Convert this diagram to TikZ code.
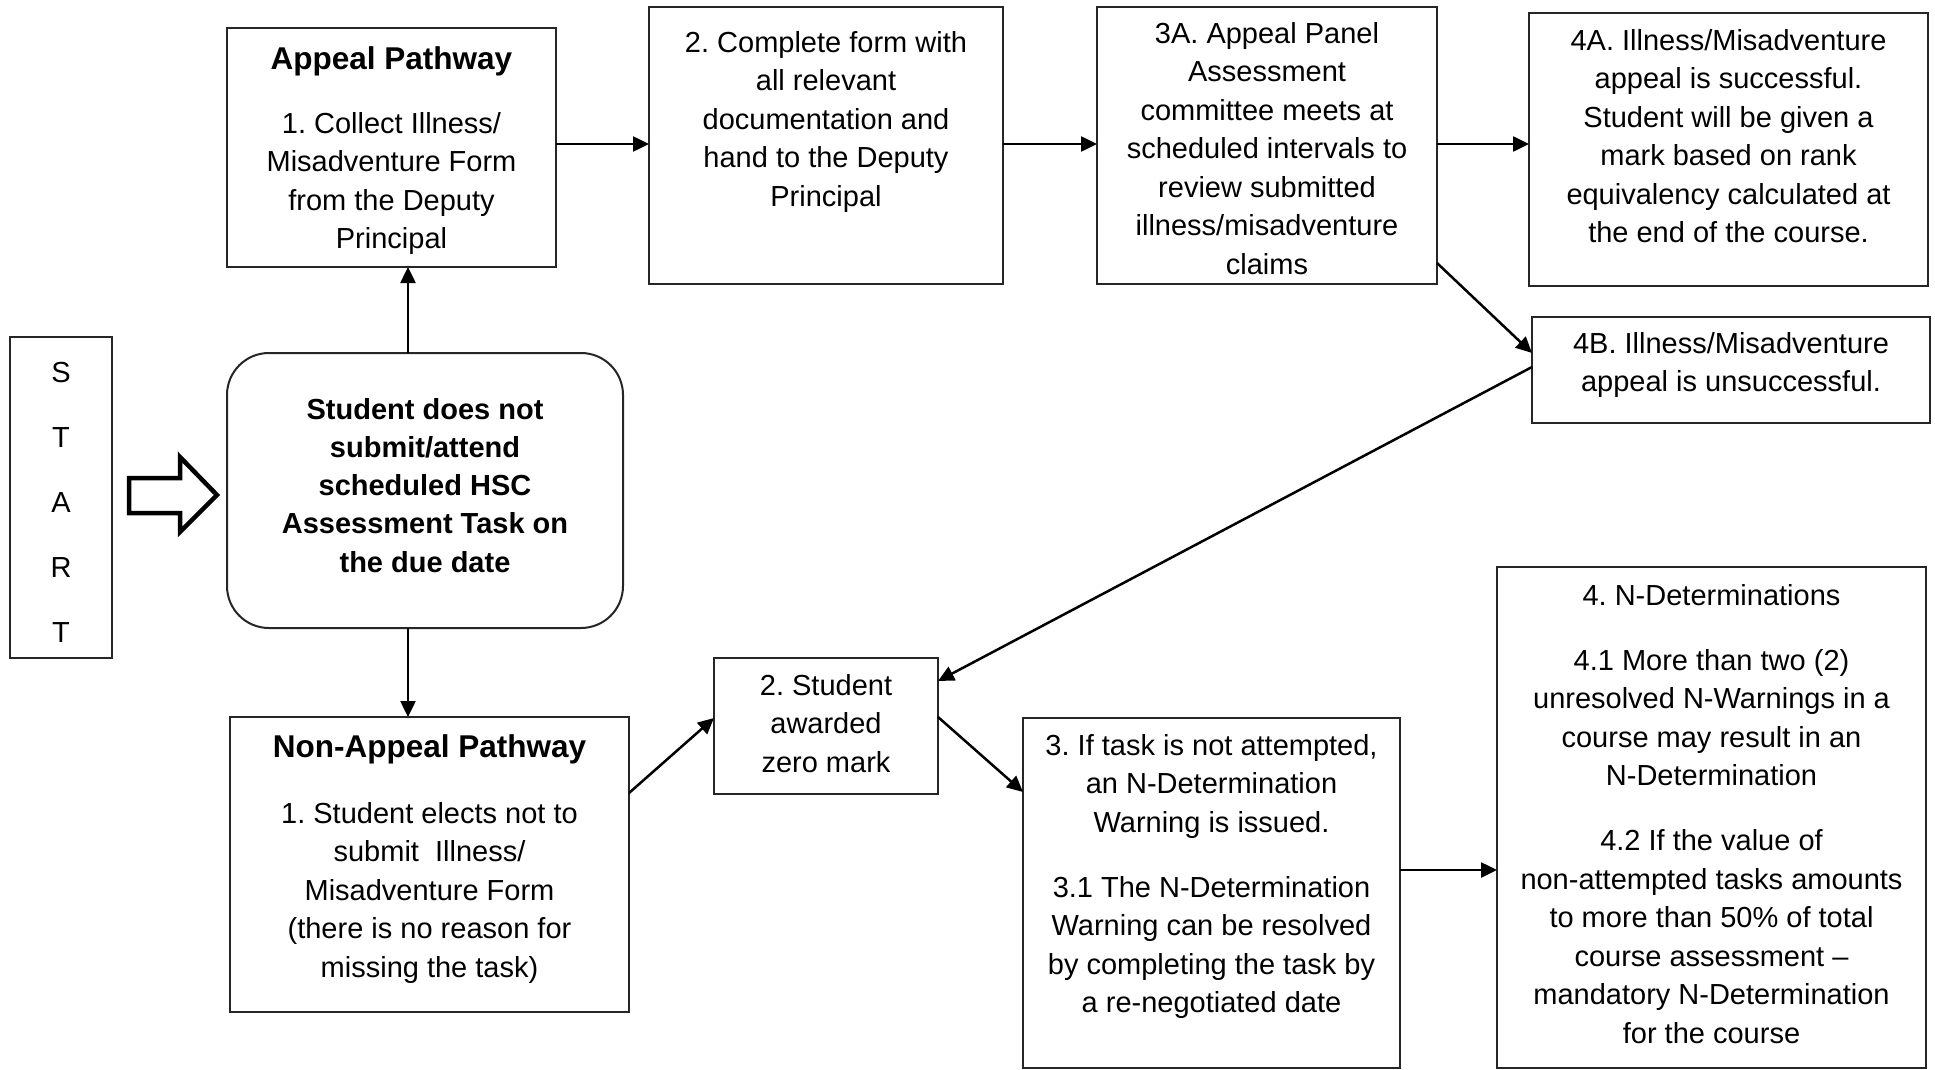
\documentclass[tikz,border=0pt]{standalone}
\usepackage{fontspec}
\setmainfont{Liberation Sans}
\usetikzlibrary{arrows.meta,calc}
\frenchspacing
\begin{document}
\begin{tikzpicture}[x=1pt,y=-1pt,
  box/.style={draw=black!85, line width=2pt, inner sep=0pt, outer sep=0pt},
  txt/.style={align=center, inner sep=0pt, anchor=north, font=\frenchspacing\fontsize{29}{38.5}\selectfont},
  headtxt/.style={align=center, inner sep=0pt, anchor=north, font=\frenchspacing\bfseries\fontsize{31.5}{38.5}\selectfont},
  boldtxt/.style={align=center, inner sep=0pt, anchor=north, font=\frenchspacing\bfseries\fontsize{29}{38.2}\selectfont},
  arr/.style={line width=2.5pt, draw=black, -{Triangle[length=16pt,width=15pt]}}]
\def\st{\rule{0pt}{26pt}}
\fill[white] (0,0) rectangle (1935,1070);
\useasboundingbox (0,0) rectangle (1935,1070);

% boxes
\node[box, minimum width=102pt, minimum height=321pt] (start) at (61,497.5) {};
\node[box, minimum width=329pt, minimum height=239pt] (appeal) at (391.5,147.5) {};
\node[box, minimum width=354pt, minimum height=277pt] (box2) at (826,145.5) {};
\node[box, minimum width=340pt, minimum height=277pt] (b3a) at (1267,145.5) {};
\node[box, minimum width=399pt, minimum height=273pt] (b4a) at (1728.5,149.5) {};
\node[box, minimum width=398pt, minimum height=106pt] (b4b) at (1731,370) {};
\node[box, rounded corners=42pt, minimum width=396pt, minimum height=275pt] (rounded) at (425,490.5) {};
\node[box, minimum width=399pt, minimum height=295pt] (nonapp) at (429.5,864.5) {};
\node[box, minimum width=224pt, minimum height=136pt] (zero) at (826,726) {};
\node[box, minimum width=377pt, minimum height=350pt] (box3) at (1211.5,893) {};
\node[box, minimum width=429pt, minimum height=501pt] (box4) at (1711.5,817.5) {};

% texts
\node[txt] (t-start) at (61,356) {\st S\\[26.5pt]T\\[26.5pt]A\\[26.5pt]R\\[26.5pt]T};
\node[headtxt] (t-appealh) at (391.5,43) {\st Appeal Pathway};
\node[txt] (t-appeal) at (391.5,107) {\st 1. Collect Illness/\\Misadventure Form\\from the Deputy\\Principal};
\node[txt] (t-box2) at (826,26) {\st 2. Complete form with\\all relevant\\documentation and\\hand to the Deputy\\Principal};
\node[txt] (t-b3a) at (1267,17) {\st 3A. Appeal Panel\\Assessment\\committee meets at\\scheduled intervals to\\review submitted\\illness/misadventure\\claims};
\node[txt] (t-b4a) at (1728.5,24) {\st 4A. Illness/Misadventure\\appeal is successful.\\Student will be given a\\mark based on rank\\equivalency calculated at\\the end of the course.};
\node[txt] (t-b4b) at (1731,327) {\st 4B. Illness/Misadventure\\appeal is unsuccessful.};
\node[boldtxt] (t-rounded) at (425,393) {\st Student does not\\submit/attend\\scheduled HSC\\Assessment Task on\\the due date};
\node[headtxt] (t-nonapph) at (429.5,731) {\st Non-Appeal Pathway};
\node[txt] (t-nonapp) at (429.5,797) {\st 1. Student elects not to\\submit~~Illness/\\Misadventure Form\\(there is no reason for\\missing the task)};
\node[txt] (t-zero) at (826,669) {\st 2. Student\\awarded\\zero mark};
\node[txt] (t-box3) at (1211.5,729) {\st 3. If task is not attempted,\\an N-Determination\\Warning is issued.\\[26.5pt]3.1 The N-Determination\\Warning can be resolved\\by completing the task by\\a re-negotiated date};
\node[txt] (t-box4) at (1711.5,579) {\st 4. N-Determinations\\[26.5pt]4.1 More than two (2)\\unresolved N-Warnings in a\\course may result in an\\N-Determination\\[26.5pt]4.2 If the value of\\non-attempted tasks amounts\\to more than 50\% of total\\course assessment --\\mandatory N-Determination\\for the course};

% block arrow
\draw[line width=4.5pt, line join=miter] (129,478) -- (180,478) -- (180,457) -- (217,495) -- (180,532) -- (180,513) -- (129,513) -- cycle;

% connectors
\coordinate (vx) at (408,0);
\coordinate (h1) at (0,144);
\coordinate (h2) at (0,870);
\draw[arr] (rounded.north -| vx) -- (appeal.south -| vx);
\draw[arr] (rounded.south -| vx) -- (nonapp.north -| vx);
\draw[arr] (appeal.east |- h1) -- (box2.west |- h1);
\draw[arr] (box2.east |- h1) -- (b3a.west |- h1);
\draw[arr] (b3a.east |- h1) -- (b4a.west |- h1);
\draw[arr] ($(b3a.south east)+(0,-21)$) -- ($(b4b.west)+(0,-17)$);
\draw[arr] ($(b4b.west)+(0,-3)$) -- ($(zero.north east)+(0,23)$);
\draw[arr] ($(nonapp.north east)+(0,76)$) -- ($(zero.west)+(0,-8)$);
\draw[arr] ($(zero.east)+(0,-9)$) -- ($(box3.north west)+(0,74)$);
\draw[arr] (box3.east |- h2) -- (box4.west |- h2);
\end{tikzpicture}
\end{document}
